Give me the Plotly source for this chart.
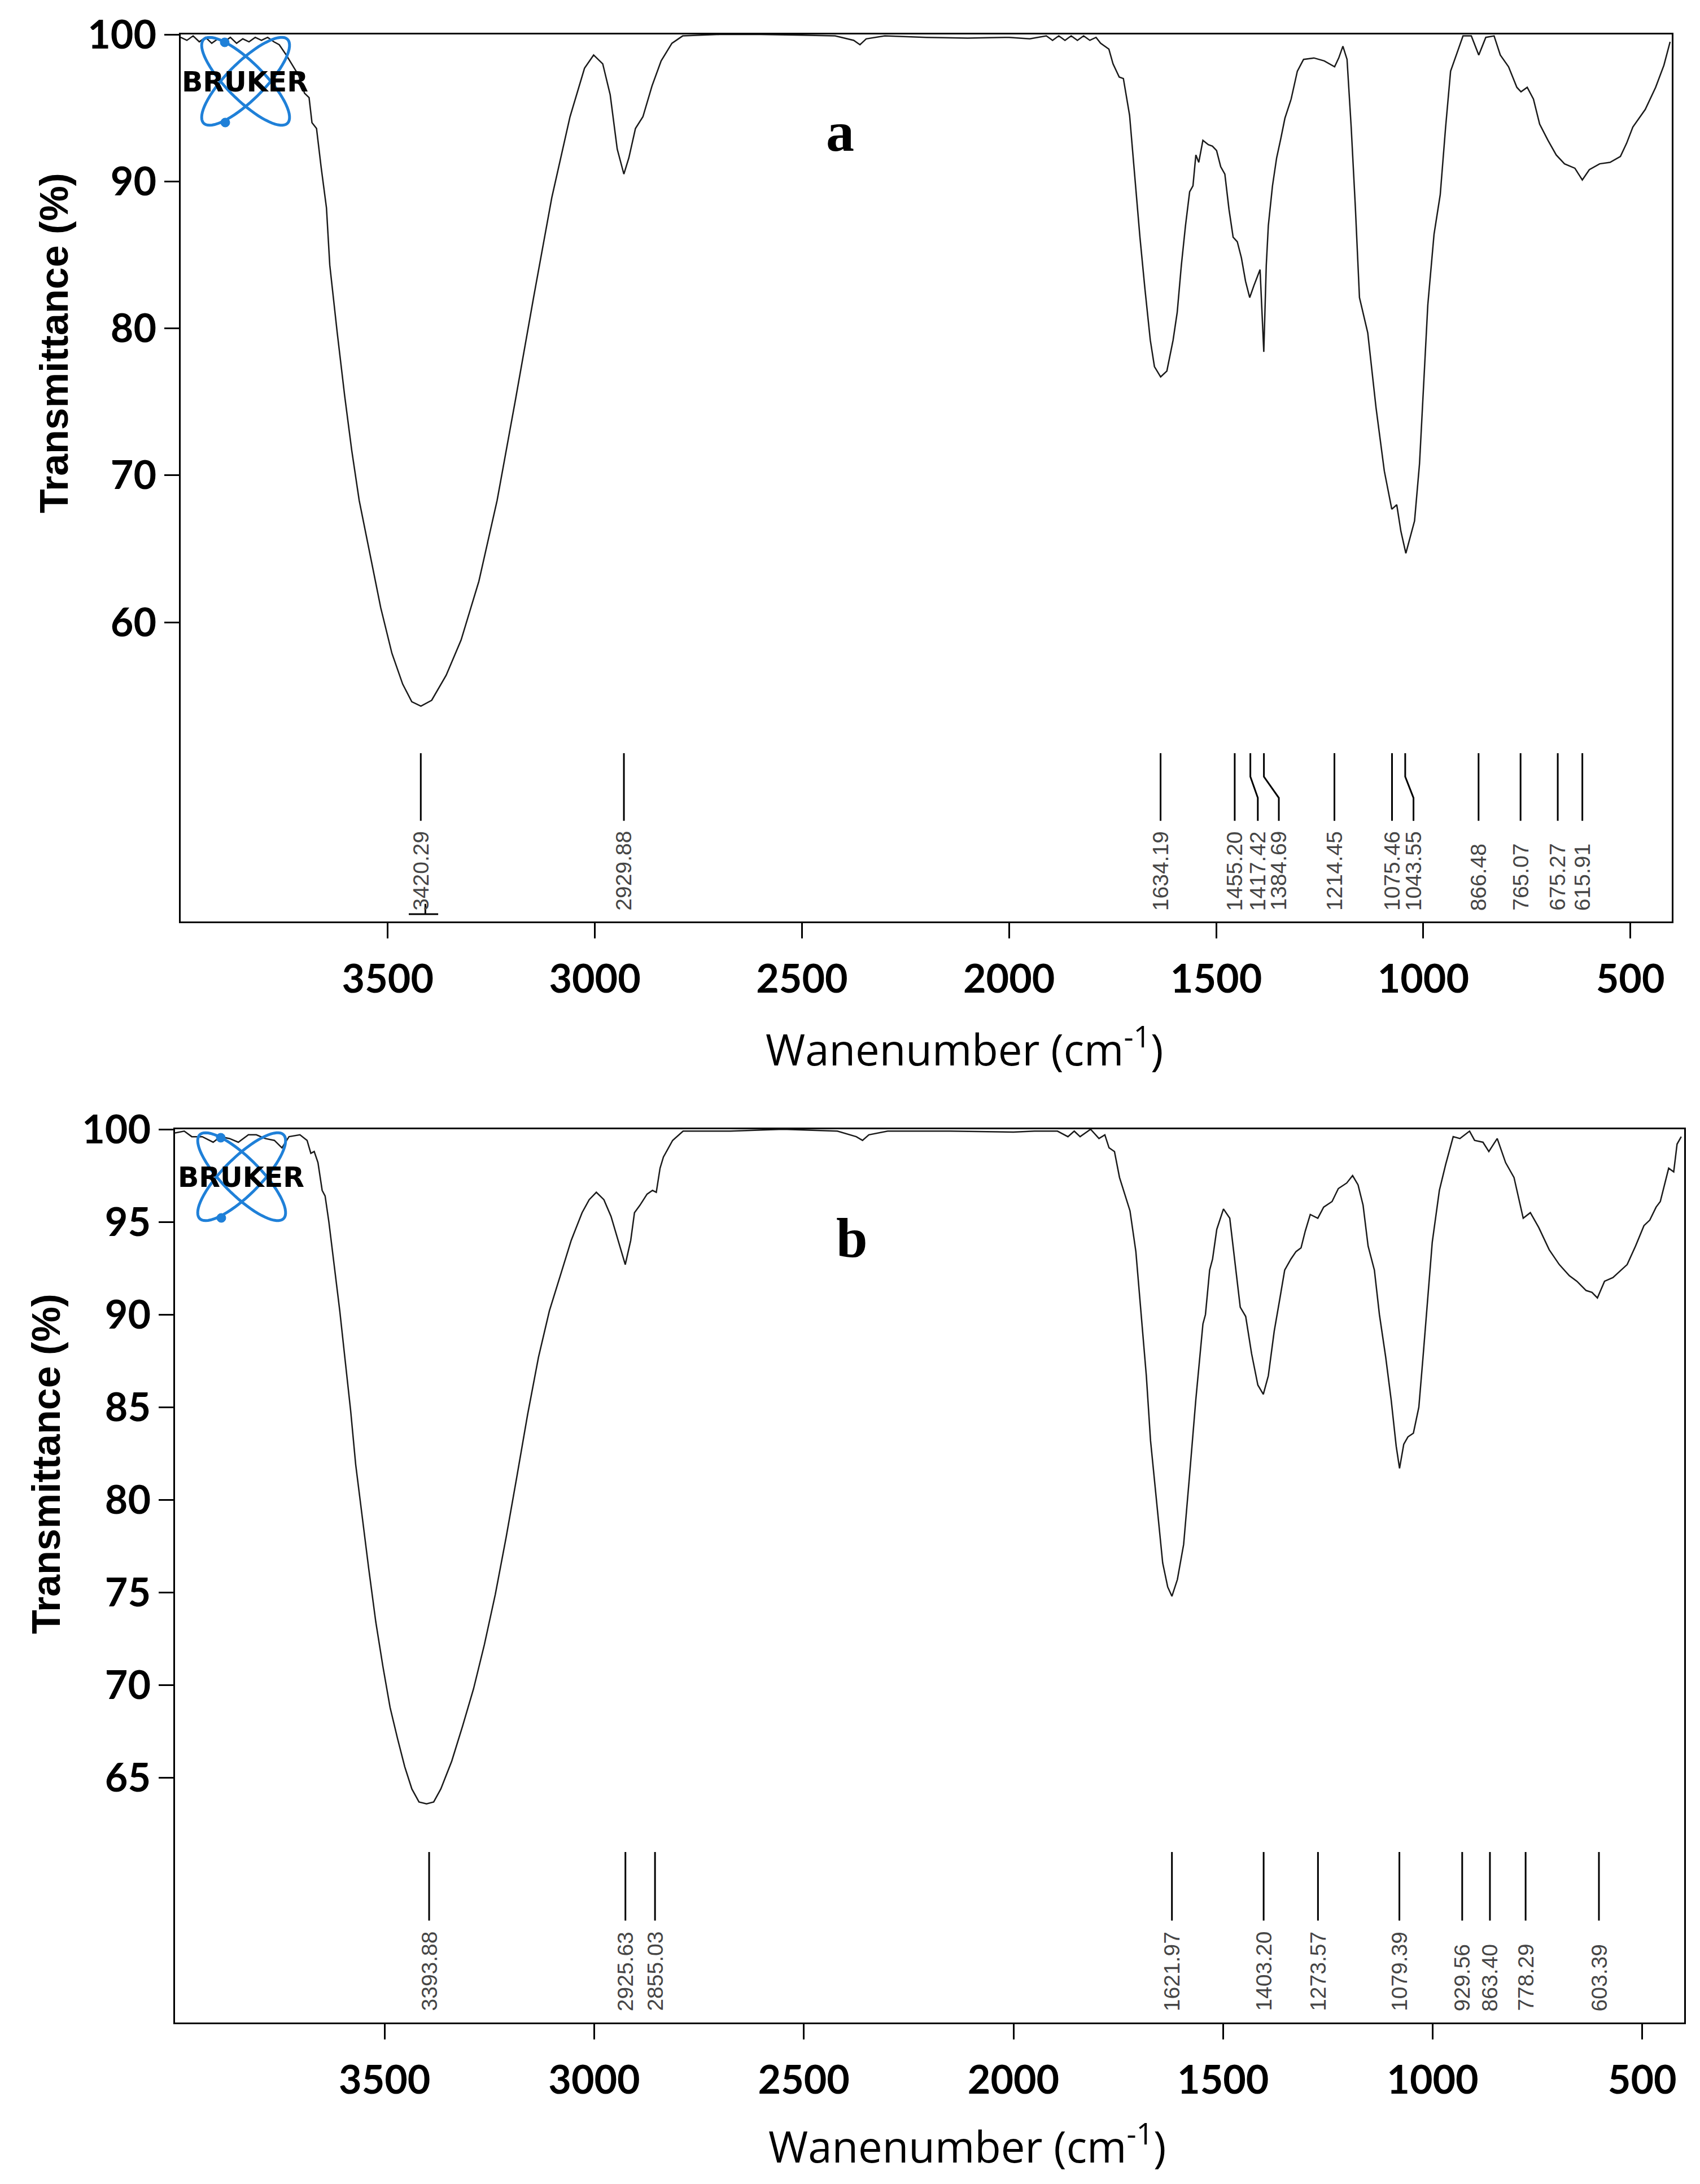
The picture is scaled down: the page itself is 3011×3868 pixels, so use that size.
import numpy as np
import plotly.graph_objects as go

W, H = 3011, 3868

# ---- spectrum a (wavenumber cm-1, transmittance %) ----
wn_a = [4000, 3985, 3970, 3955, 3940, 3925, 3910, 3895, 3880, 3865, 3850, 3835, 3820, 3805,
        3790, 3775, 3762, 3745, 3730, 3715, 3701, 3690, 3683, 3672, 3661, 3648, 3640, 3622,
        3604, 3587, 3569, 3543, 3517, 3490, 3464, 3442, 3420, 3394, 3359, 3323, 3280, 3236,
        3192, 3148, 3104, 3060, 3025, 3003, 2981, 2963, 2946, 2930, 2918, 2902, 2884, 2862,
        2840, 2814, 2788, 2700, 2600, 2500, 2420, 2375, 2360, 2345, 2300, 2200, 2100, 2000,
        1950, 1910, 1895, 1880, 1865, 1850, 1835, 1820, 1805, 1790, 1779, 1759, 1749, 1734,
        1724, 1709, 1694, 1684, 1672, 1659, 1649, 1634, 1619, 1604, 1594, 1584, 1574, 1564,
        1556, 1549, 1542, 1532, 1519, 1509, 1499, 1489, 1479, 1469, 1459, 1449, 1439, 1429,
        1419, 1409, 1394, 1385, 1379, 1374, 1364, 1354, 1344, 1334, 1319, 1304, 1289, 1264,
        1239, 1214, 1204, 1194, 1184, 1174, 1164, 1154, 1134, 1114, 1094, 1076, 1064, 1054,
        1042, 1021, 1009, 999, 989, 974, 959, 946, 934, 919, 904, 884, 866, 849, 829, 814,
        794, 774, 764, 749, 734, 719, 699, 679, 659, 634, 616, 599, 574, 549, 524, 509, 494,
        464, 439, 419, 404]
t_a = [99.8, 99.6, 99.9, 99.5, 99.8, 99.4, 99.7, 99.5, 99.8, 99.4, 99.7, 99.5, 99.8, 99.6,
       99.8, 99.5, 99.3, 98.6, 97.9, 97.2, 96.0, 95.7, 94.0, 93.6, 91.0, 88.2, 84.3, 79.7,
       75.4, 71.7, 68.3, 64.7, 61.0, 57.9, 55.8, 54.6, 54.3, 54.7, 56.4, 58.8, 62.8, 68.3,
       75.1, 82.1, 88.9, 94.4, 97.7, 98.6, 98.0, 95.9, 92.2, 90.5, 91.6, 93.6, 94.4, 96.5,
       98.2, 99.4, 99.9, 100.0, 100.0, 99.95, 99.9, 99.6, 99.3, 99.7, 99.9, 99.8, 99.75, 99.8,
       99.7, 99.9, 99.6, 99.9, 99.6, 99.9, 99.6, 99.9, 99.6, 99.8, 99.4, 99.0, 98.0, 97.1,
       97.0, 94.5, 89.7, 86.2, 82.7, 79.2, 77.4, 76.7, 77.1, 79.2, 81.1, 84.3, 87.0, 89.3,
       89.7, 91.8, 91.3, 92.8, 92.5, 92.4, 92.1, 91.0, 90.5, 88.1, 86.2, 85.9, 84.8, 83.2,
       82.1, 82.9, 84.0, 78.4, 84.3, 87.0, 89.7, 91.6, 92.9, 94.3, 95.6, 97.5, 98.3, 98.4,
       98.2, 97.8, 98.4, 99.2, 98.3, 93.7, 88.3, 82.1, 79.7, 74.6, 70.3, 67.7, 68.0, 66.2,
       64.7, 66.9, 70.8, 76.2, 81.6, 86.4, 89.1, 93.7, 97.5, 98.7, 99.9, 99.9, 98.6, 99.8, 99.9, 98.6,
       97.8, 96.4, 96.1, 96.4, 95.6, 93.9, 92.8, 91.8, 91.2, 90.9, 90.1, 90.8, 91.2, 91.3, 91.7, 92.6, 93.7,
       94.9, 96.4, 97.9, 99.5]

# ---- spectrum b ----
wn_b = [4000, 3978, 3960, 3935, 3909, 3892, 3870, 3849, 3825, 3806, 3785, 3763, 3745, 3728,
        3702, 3685, 3676, 3668, 3659, 3649, 3642, 3633, 3620, 3607, 3594, 3581, 3569, 3556,
        3538, 3521, 3504, 3487, 3469, 3452, 3435, 3418, 3400, 3383, 3366, 3340, 3314, 3288,
        3262, 3236, 3210, 3185, 3159, 3133, 3107, 3081, 3055, 3029, 3012, 2995, 2977, 2960,
        2943, 2926, 2913, 2904, 2891, 2874, 2861, 2852, 2843, 2835, 2813, 2788, 2675, 2550,
        2420, 2375, 2360, 2345, 2300, 2150, 2000, 1950, 1914, 1895, 1870, 1855, 1841, 1816,
        1796, 1782, 1772, 1759, 1747, 1732, 1722, 1708, 1696, 1683, 1673, 1658, 1644, 1632,
        1622, 1609, 1594, 1580, 1565, 1548, 1542, 1532, 1525, 1515, 1499, 1484, 1471, 1459,
        1446, 1432, 1417, 1404, 1392, 1378, 1365, 1353, 1338, 1326, 1314, 1304, 1292, 1274,
        1260, 1240, 1225, 1205, 1191, 1178, 1166, 1154, 1139, 1127, 1112, 1099, 1087, 1079,
        1069, 1059, 1046, 1033, 1023, 1013, 1001, 984, 969, 951, 935, 912, 900, 880, 866, 846,
        826, 806, 784, 767, 747, 722, 698, 674, 656, 634, 620, 607, 590, 570, 551, 536, 516,
        496, 482, 467, 457, 437, 425, 417, 407]
t_b = [99.8, 99.9, 99.6, 99.6, 99.3, 99.6, 99.5, 99.3, 99.7, 99.7, 99.5, 99.4, 99.0, 99.6,
       99.7, 99.4, 98.7, 98.8, 98.2, 96.7, 96.4, 95.0, 92.6, 90.2, 87.5, 84.8, 81.9, 79.5,
       76.3, 73.4, 71.0, 68.8, 67.1, 65.6, 64.4, 63.7, 63.6, 63.7, 64.4, 65.9, 67.8, 69.8,
       72.2, 74.9, 78.0, 81.2, 84.6, 87.7, 90.2, 92.1, 94.0, 95.5, 96.2, 96.6, 96.2, 95.3,
       94.0, 92.7, 94.0, 95.5, 95.9, 96.5, 96.7, 96.6, 97.9, 98.5, 99.4, 99.9, 99.9, 100.0,
       99.9, 99.6, 99.4, 99.7, 99.9, 99.9, 99.85, 99.9, 99.9, 99.9, 99.6, 99.9, 99.6, 100.0,
       99.5, 99.7, 99.0, 98.8, 97.4, 96.3, 95.6, 93.4, 90.2, 86.7, 83.2, 79.7, 76.6, 75.3,
       74.8, 75.7, 77.6, 81.3, 85.4, 89.5, 90.0, 92.4, 93.0, 94.6, 95.7, 95.2, 92.6, 90.4,
       89.9, 87.9, 86.2, 85.7, 86.7, 89.1, 90.8, 92.4, 93.0, 93.4, 93.6, 94.5, 95.4, 95.2,
       95.8, 96.1, 96.8, 97.1, 97.5, 97.0, 95.9, 93.7, 92.4, 90.0, 87.7, 85.4, 82.9, 81.7,
       83.0, 83.4, 83.6, 85.0, 87.7, 90.6, 93.9, 96.7, 98.1, 99.6, 99.5, 99.9, 99.4, 99.3, 98.8, 99.5,
       98.2, 97.4, 95.2, 95.5, 94.7, 93.5, 92.7, 92.1, 91.8, 91.3, 91.2, 90.9, 91.8, 92.0, 92.4, 92.7, 93.7,
       94.8, 95.1, 95.8, 96.1, 97.9, 97.7, 99.2, 99.6]

peaks_a = [3420.29, 2929.88, 1634.19, 1455.20, 1417.42, 1384.69, 1214.45,
           1075.46, 1043.55, 866.48, 765.07, 675.27, 615.91]
peaks_b = [3393.88, 2925.63, 2855.03, 1621.97, 1403.20, 1273.57, 1079.39,
           929.56, 863.40, 778.29, 603.39]

x_ticks = [3500, 3000, 2500, 2000, 1500, 1000, 500]
y_ticks_a = [60, 70, 80, 90, 100]
y_ticks_b = [65, 70, 75, 80, 85, 90, 95, 100]

# crowded peak labels are pushed sideways (cm-1)
shift_a = {1417.42: -18, 1384.69: -36, 1043.55: -20}

LINE = "#1a1a1a"
LABEL = "#454545"
BLUE = "#1f80d8"


def px(x):
    return x / W


def py(y):
    return 1 - y / H


fig = go.Figure()
fig.add_trace(go.Scatter(x=wn_a, y=t_a, mode="lines", line=dict(color=LINE, width=2.5),
                         xaxis="x", yaxis="y", hoverinfo="skip"))
fig.add_trace(go.Scatter(x=wn_b, y=t_b, mode="lines", line=dict(color=LINE, width=2.5),
                         xaxis="x2", yaxis="y2", hoverinfo="skip"))

# peak pick lines
annotations = []
xs, ys = [], []
for p in peaks_a:
    s = shift_a.get(p, 0)
    xs += [p, p, p + s, p + s, None]
    ys += [51.1, 49.5, 48.06, 46.5, None]
    annotations.append(dict(x=p + s, y=40.3, xref="x", yref="y", text=f"{p:.2f}",
                            textangle=-90, xanchor="center", yanchor="bottom", showarrow=False,
                            font=dict(family="Liberation Sans, Arial", size=39, color=LABEL)))
# little cursor mark under the first label
p0 = peaks_a[0]
xs += [p0 + 29, p0 - 42, None, p0 - 11, p0 - 11, None]
ys += [40.15, 40.15, None, 40.15, 40.85, None]
fig.add_trace(go.Scatter(x=xs, y=ys, mode="lines", line=dict(color="black", width=3),
                         xaxis="x", yaxis="y", hoverinfo="skip"))

xs, ys = [], []
for p in peaks_b:
    xs += [p, p, None]
    ys += [61.0, 57.3, None]
    annotations.append(dict(x=p, y=52.35, xref="x2", yref="y2", text=f"{p:.2f}",
                            textangle=-90, xanchor="center", yanchor="bottom", showarrow=False,
                            font=dict(family="Liberation Sans, Arial", size=39, color=LABEL)))
fig.add_trace(go.Scatter(x=xs, y=ys, mode="lines", line=dict(color="black", width=3),
                         xaxis="x2", yaxis="y2", hoverinfo="skip"))

# axis titles and panel letters
title_font = dict(family="Liberation Sans, Arial", size=70, color="black", weight="bold")
xt_font = dict(family="Open Sans", size=76, color="black")
for yx, yy in [(88, 600), (74, 2585)]:
    annotations.append(dict(x=px(yx), y=py(yy), xref="paper", yref="paper",
                            text="Transmittance (%)", textangle=-90, showarrow=False,
                            xanchor="center", yanchor="middle", font=title_font))
for tx, ty in [(1700, 1845), (1705, 3788)]:
    annotations.append(dict(x=px(tx), y=py(ty), xref="paper", yref="paper",
                            text="Wanenumber (cm<sup>-1</sup>)", showarrow=False,
                            xanchor="center", yanchor="middle", font=xt_font))
for letter, lx, ly in [("a", 1480, 226), ("b", 1501, 2184)]:
    annotations.append(dict(x=px(lx), y=py(ly), xref="paper", yref="paper", text=letter,
                            showarrow=False, xanchor="center", yanchor="middle",
                            font=dict(family="Liberation Serif, Times New Roman", size=100,
                                      color="black", weight="bold")))


# Bruker logo: two crossed blue orbits with the word on top
def orbit(cx, cy, a, b, ang):
    t = np.linspace(0, 2 * np.pi, 72)
    ex = cx + a * np.cos(t) * np.cos(ang) - b * np.sin(t) * np.sin(ang)
    ey = cy + a * np.cos(t) * np.sin(ang) + b * np.sin(t) * np.cos(ang)
    return "M " + " L ".join(f"{px(x):.5f},{py(y):.5f}" for x, y in zip(ex, ey)) + " Z"


shapes = []
for cx, cy in [(427, 136), (420, 2076)]:
    for ang in (np.pi / 4, -np.pi / 4):
        shapes.append(dict(type="path", path=orbit(cx, cy, 105, 33, ang), xref="paper",
                           yref="paper", line=dict(color=BLUE, width=5), layer="above"))
    for dx, dy in [(-36, 73), (-37, -69)]:
        r = 8
        shapes.append(dict(type="circle", xref="paper", yref="paper",
                           x0=px(cx + dx - r), x1=px(cx + dx + r),
                           y0=py(cy + dy - r), y1=py(cy + dy + r),
                           fillcolor=BLUE, line=dict(color=BLUE, width=1), layer="above"))
    annotations.append(dict(x=px(cx - 1), y=py(cy + 1), xref="paper", yref="paper",
                            text="BRUKER", showarrow=False, xanchor="center", yanchor="middle",
                            font=dict(family="DejaVu Sans", size=49, color="black",
                                      weight="bold")))

tick_font = dict(family="Lato", size=70, color="black", weight="bold")
common_x = dict(range=[4000, 400], tickvals=x_ticks, ticks="outside", ticklen=27, tickwidth=3,
                tickcolor="black", showline=True, linewidth=3, linecolor="black", mirror=True,
                showgrid=False, zeroline=False, tickfont=tick_font, automargin=False,
                ticklabelstandoff=12)
common_y = dict(ticks="outside", ticklen=26, tickwidth=3, tickcolor="black", showline=True,
                linewidth=3, linecolor="black", mirror=True, showgrid=False, zeroline=False,
                tickfont=tick_font, automargin=False)

fig.update_layout(
    width=W, height=H,
    margin=dict(l=0, r=0, t=0, b=0, pad=0, autoexpand=False),
    paper_bgcolor="white", plot_bgcolor="white",
    showlegend=False,
    xaxis=dict(common_x, domain=[px(312), px(2953)], anchor="y"),
    yaxis=dict(common_y, domain=[py(1624), py(53)], range=[39.65, 100], tickvals=y_ticks_a,
               anchor="x"),
    xaxis2=dict(common_x, domain=[px(302), px(2975)], anchor="y2"),
    yaxis2=dict(common_y, domain=[py(3574), py(1992)], range=[51.8, 100], tickvals=y_ticks_b,
                anchor="x2"),
    annotations=annotations,
    shapes=shapes,
)

fig.write_html("out.html")
